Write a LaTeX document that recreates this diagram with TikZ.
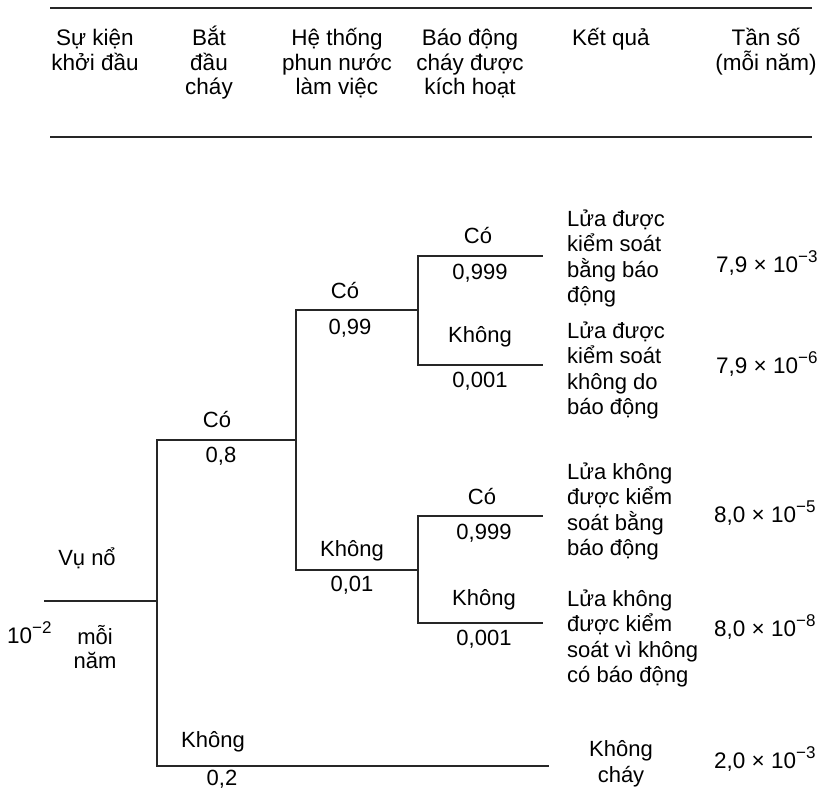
\documentclass[tikz,border=0pt]{standalone}
\usepackage{fontspec}
\setmainfont{Liberation Sans}
\newcommand\expo[1]{\raisebox{9.5pt}{\fontsize{17}{17}\selectfont #1}}
\begin{document}
\begin{tikzpicture}[x=1pt,y=-1pt,
  rule/.style={line width=2.4pt,color=black!85},
  branch/.style={line width=1.8pt,color=black!85,line cap=rect},
  hdr/.style={anchor=base,align=center,inner sep=0pt,font=\fontsize{22.5}{24.5}\selectfont},
  lbl/.style={anchor=base,inner sep=0pt,font=\fontsize{22}{25.5}\selectfont},
  outc/.style={anchor=base west,align=left,inner sep=0pt,font=\fontsize{22}{25.5}\selectfont},
  freq/.style={anchor=base west,inner sep=0pt,font=\fontsize{22.5}{26}\selectfont}]
\useasboundingbox (0,0) rectangle (820,793);
% header rules
\coordinate (r1a) at (50,8);  \coordinate (r1b) at (812,8);
\coordinate (r2a) at (50,137); \coordinate (r2b) at (812,137);
\draw[rule] (r1a) -- (r1b);
\draw[rule] (r2a) -- (r2b);
% headers (anchor = baseline of the last line)
\node[hdr] (h1) at (95,70) {Sự kiện\\khởi đầu};
\node[hdr] (h2) at (209,94.5) {Bắt\\đầu\\cháy};
\node[hdr] (h3) at (337,94.5) {Hệ thống\\phun nước\\làm việc};
\node[hdr] (h4) at (470,94.5) {Báo động\\cháy được\\kích hoạt};
\node[hdr] (h5) at (611,45.5) {Kết quả};
\node[hdr] (h6) at (766,70) {Tần số\\(mỗi năm)};
% tree coordinates
\coordinate (start) at (45,601);
\coordinate (n1) at (157,601);
\coordinate (n1u) at (157,440); \coordinate (n1d) at (157,766);
\coordinate (n2) at (296,440);
\coordinate (n2u) at (296,310); \coordinate (n2d) at (296,570);
\coordinate (n3) at (418,310);
\coordinate (n3u) at (418,256); \coordinate (n3d) at (418,365);
\coordinate (n4) at (418,570);
\coordinate (n4u) at (418,516); \coordinate (n4d) at (418,623);
\coordinate (e1) at (542,256); \coordinate (e2) at (542,365);
\coordinate (e3) at (542,516); \coordinate (e4) at (542,623);
\coordinate (e5) at (548,766);
% tree lines
\draw[branch] (start) -- (n1);
\draw[branch] (n1u) -- (n1d);
\draw[branch] (n1u) -- (n2);
\draw[branch] (n2u) -- (n2d);
\draw[branch] (n2u) -- (n3);
\draw[branch] (n3u) -- (n3d);
\draw[branch] (n3u) -- (e1);
\draw[branch] (n3d) -- (e2);
\draw[branch] (n2d) -- (n4);
\draw[branch] (n4u) -- (n4d);
\draw[branch] (n4u) -- (e3);
\draw[branch] (n4d) -- (e4);
\draw[branch] (n1d) -- (e5);
% branch labels
\node[lbl] (l1) at (217,427) {Có};
\node[lbl] (p1) at (221,462) {0,8};
\node[lbl] (l2) at (345,298) {Có};
\node[lbl] (p2) at (350,334) {0,99};
\node[lbl] (l3) at (478,243) {Có};
\node[lbl] (p3) at (480,279) {0,999};
\node[lbl] (l4) at (480,342) {Không};
\node[lbl] (p4) at (480,387) {0,001};
\node[lbl] (l5) at (352,556) {Không};
\node[lbl] (p5) at (352,591) {0,01};
\node[lbl] (l6) at (482,504) {Có};
\node[lbl] (p6) at (484,539) {0,999};
\node[lbl] (l7) at (484,605) {Không};
\node[lbl] (p7) at (484,645) {0,001};
\node[lbl] (l8) at (213,747) {Không};
\node[lbl] (p8) at (222,785) {0,2};
% initiating event
\node[lbl] (ev) at (87,565) {Vụ nổ};
\node[freq] (evf) at (7,643) {10\expo{−2}};
\node[lbl,align=center,font=\fontsize{22}{24}\selectfont] (evy) at (95,668) {mỗi\\năm};
% outcomes (anchor = baseline of the last line)
\node[outc] (o1) at (567,302.5) {Lửa được\\kiểm soát\\bằng báo\\động};
\node[outc] (o2) at (567,414.5) {Lửa được\\kiểm soát\\không do\\báo động};
\node[outc] (o3) at (567,555.5) {Lửa không\\được kiểm\\soát bằng\\báo động};
\node[outc] (o4) at (567,682.5) {Lửa không\\được kiểm\\soát vì không\\có báo động};
\node[lbl,align=center] (o5) at (621,782) {Không\\cháy};
% frequencies
\node[freq] (f1) at (716,272) {7,9 × 10\expo{−3}};
\node[freq] (f2) at (716,373) {7,9 × 10\expo{−6}};
\node[freq] (f3) at (714,522) {8,0 × 10\expo{−5}};
\node[freq] (f4) at (714,636) {8,0 × 10\expo{−8}};
\node[freq] (f5) at (714,768) {2,0 × 10\expo{−3}};
\end{tikzpicture}
\end{document}
